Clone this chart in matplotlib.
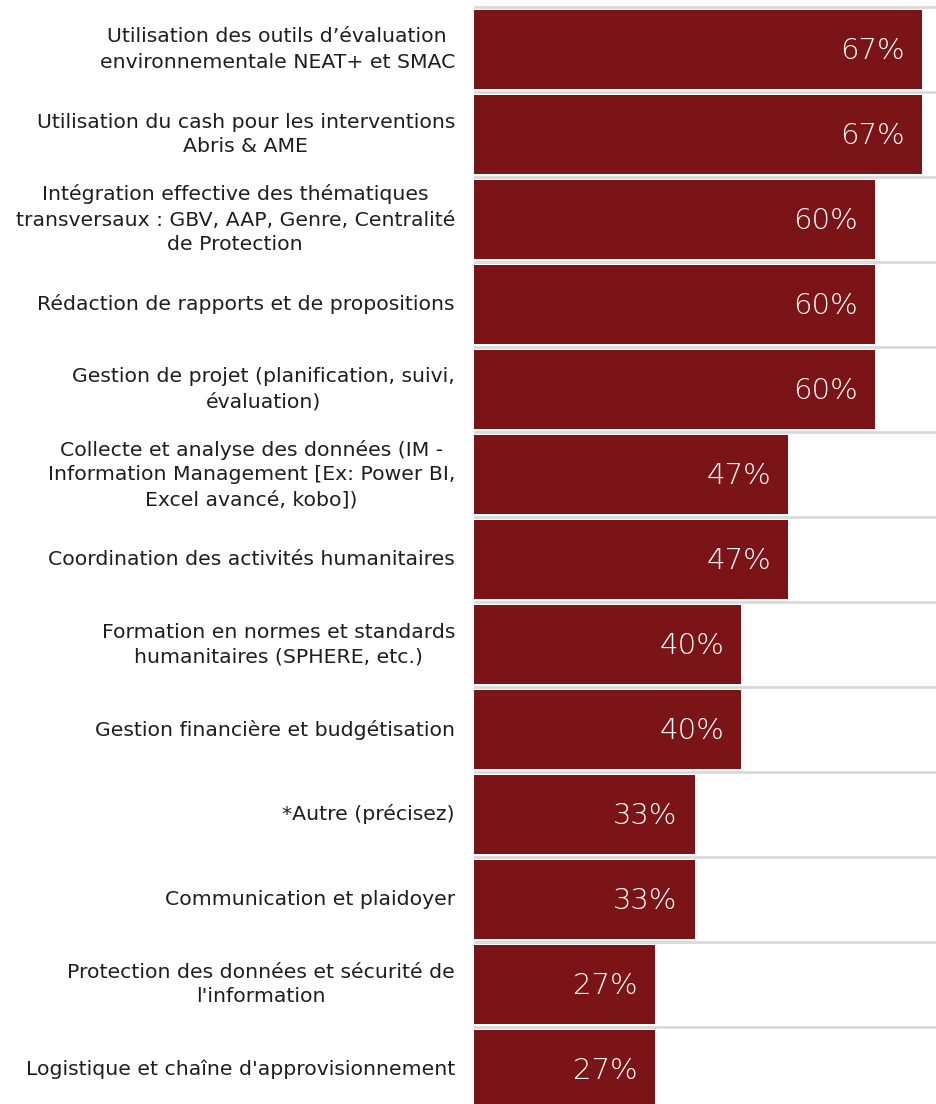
import matplotlib
matplotlib.use("Agg")
import matplotlib.pyplot as plt
import numpy as np

categories = [
    "Utilisation des outils d’évaluation\nenvironnementale NEAT+ et SMAC",
    "Utilisation du cash pour les interventions\nAbris & AME",
    "Intégration effective des thématiques\ntransversaux : GBV, AAP, Genre, Centralité\nde Protection",
    "Rédaction de rapports et de propositions",
    "Gestion de projet (planification, suivi,\névaluation)",
    "Collecte et analyse des données (IM -\nInformation Management [Ex: Power BI,\nExcel avancé, kobo])",
    "Coordination des activités humanitaires",
    "Formation en normes et standards\nhumanitaires (SPHERE, etc.)",
    "Gestion financière et budgétisation",
    "*Autre (précisez)",
    "Communication et plaidoyer",
    "Protection des données et sécurité de\nl'information",
    "Logistique et chaîne d'approvisionnement",
]
values = [67, 67, 60, 60, 60, 47, 47, 40, 40, 33, 33, 27, 27]
value_labels = ["67%", "67%", "60%", "60%", "60%", "47%", "47%", "40%", "40%",
                "33%", "33%", "27%", "27%"]

W, H = 936, 1104
fig = plt.figure(figsize=(W / 100, H / 100), dpi=100)
ax = fig.add_axes([474 / W, 0, 1 - 474 / W, 1])

y = np.arange(len(categories))
bar_color = "#7B1416"
ax.barh(y, values, height=0.92, color=bar_color, zorder=2)

ax.set_xlim(0, (W - 474) / 6.687)
ax.set_ylim(-0.5 + (H - 7) / 85.0, -0.5 - 7 / 85.0)

for b in np.arange(-0.5, len(categories) - 0.5, 1.0):
    ax.axhline(b, color="#D9D9D9", lw=2, zorder=1)

for yi, v, lab in zip(y, values, value_labels):
    ax.text(v - 2.6, yi + 0.02, lab, ha="right", va="center", color="white",
            fontsize=21, family="DejaVu Sans", fontweight="light", zorder=3)

for yi, cat in zip(y, categories):
    ax.text(-2.85, yi, cat, ha="right", va="center", multialignment="center",
            fontsize=14.7, family="DejaVu Sans", color="#1f1f1f", linespacing=1.4,
            clip_on=False)

ax.set_xticks([])
ax.set_yticks([])
for s in ax.spines.values():
    s.set_visible(False)

fig.savefig("out.png", dpi=100, facecolor="white")
